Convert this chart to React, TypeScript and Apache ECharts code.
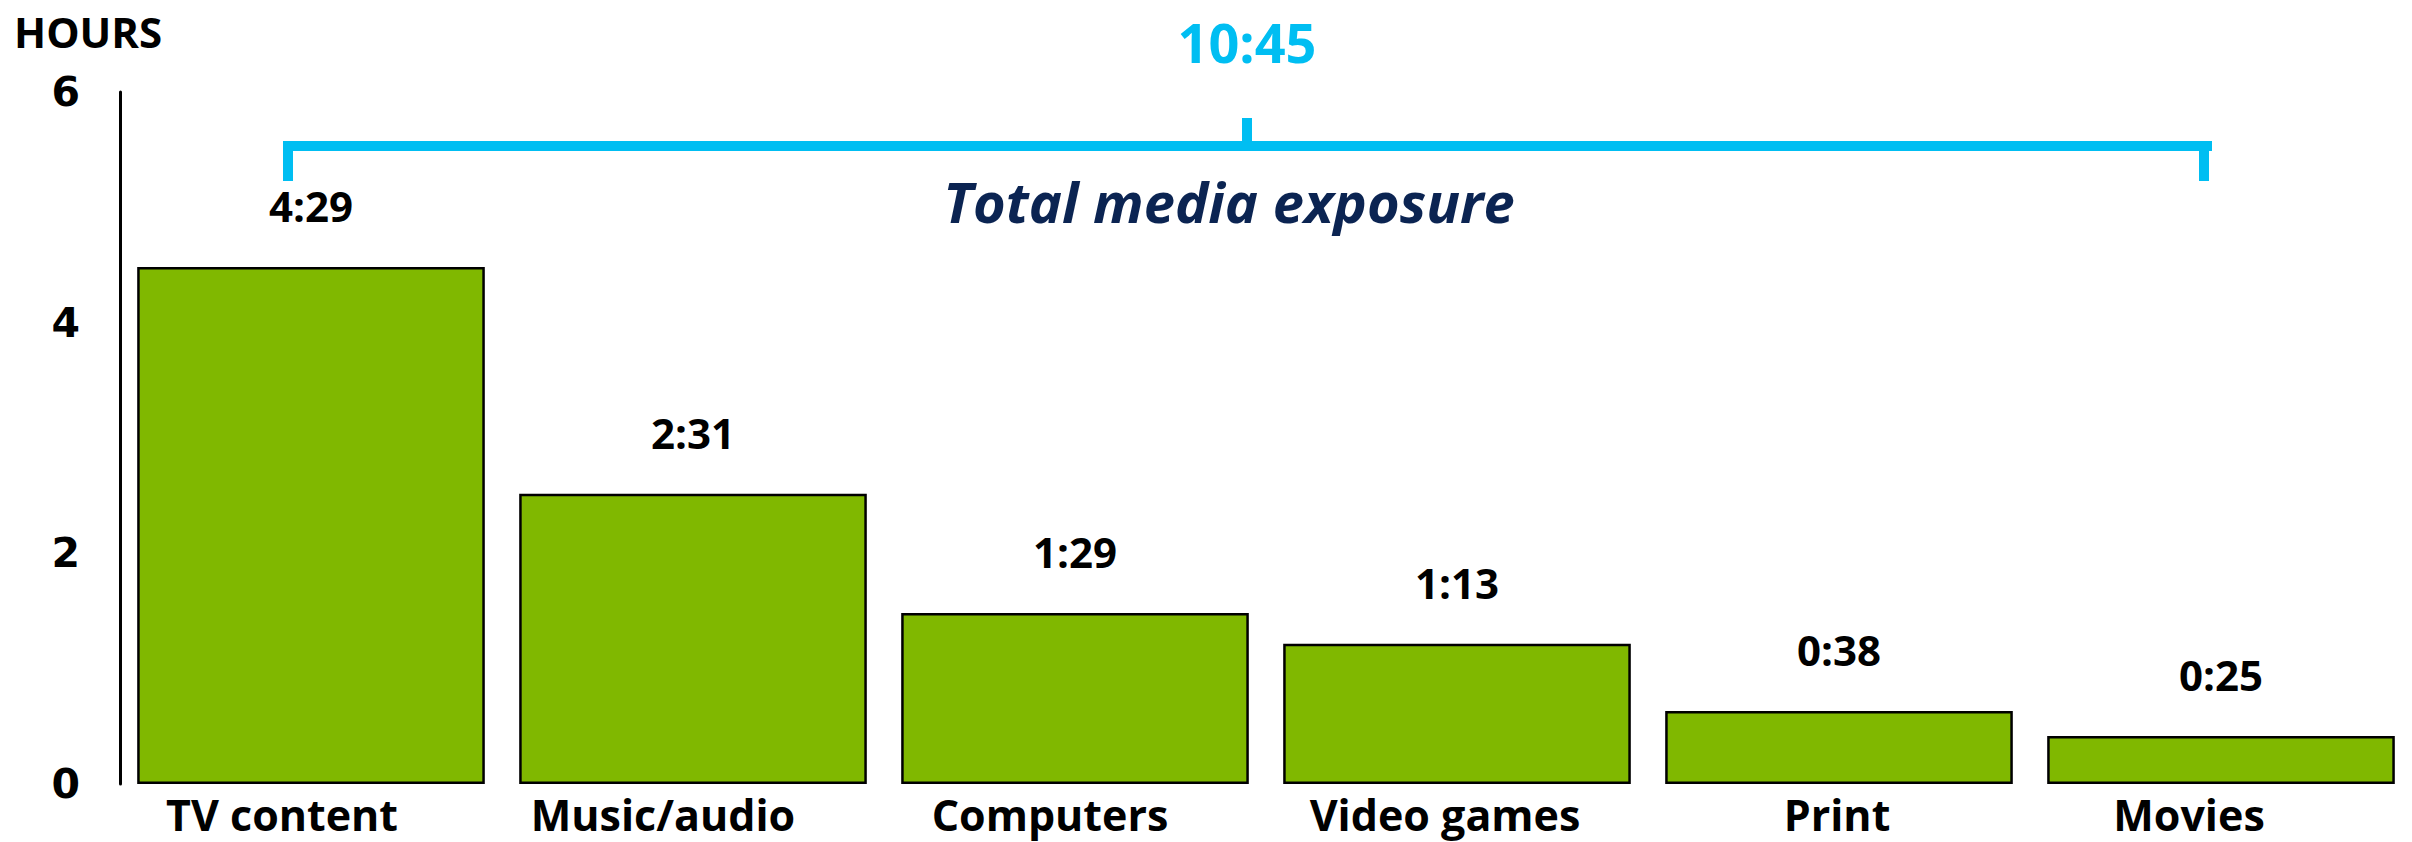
import React, { useEffect, useRef } from "react";
import * as echarts from "echarts";

const categories = ["TV content", "Music/audio", "Computers", "Video games", "Print", "Movies"];
const valueLabels = ["4:29", "2:31", "1:29", "1:13", "0:38", "0:25"];
// hours (h + min/60)
const hours = [4 + 29 / 60, 2 + 31 / 60, 1 + 29 / 60, 1 + 13 / 60, 38 / 60, 25 / 60];
const yTicks = [0, 2, 4, 6];
const totalLabel = "10:45";
const bracketCaption = "Total media exposure";
const yUnit = "HOURS";

// horizontal shift (px, leftwards) of each category label, as in the reference
const labelShift = [29, 30, 25, 12, 2, 32];

const GREEN = "#80B800";
const BLUE = "#00BEF2";
const NAVY = "#0B2452";

export default function App() {
  const ref = useRef<HTMLDivElement>(null);
  useEffect(() => {
    if (!ref.current) return;
    const chart = echarts.init(ref.current, null, { renderer: "svg" });
    const lineStyle = { stroke: BLUE, lineWidth: 10 };
    const labelFont = {
      color: "#000",
      fontFamily: "Open Sans",
      fontWeight: "bold" as const,
      fontSize: 43,
      lineHeight: 36,
    };
    const rich: Record<string, any> = {};
    labelShift.forEach((s, i) => {
      rich["l" + i] = { ...labelFont, padding: [0, 2 * s, 0, 0] };
    });
    chart.setOption({
      animation: false,
      backgroundColor: "#ffffff",
      grid: { left: 120, top: 92, width: 2298, bottom: 58, containLabel: false },
      xAxis: {
        type: "category",
        data: categories,
        axisLine: { show: false },
        axisTick: { show: false },
        axisLabel: {
          interval: 0,
          hideOverlap: false,
          margin: 12,
          ...labelFont,
          rich,
          formatter: (v: string) => `{l${categories.indexOf(v)}|${v}}`,
        },
      },
      yAxis: {
        type: "value",
        min: yTicks[0],
        max: yTicks[yTicks.length - 1],
        interval: 2,
        splitLine: { show: false },
        axisTick: { show: false },
        axisLine: { show: true, lineStyle: { color: "#000", width: 3 } },
        axisLabel: {
          margin: 40,
          color: "#000",
          fontFamily: "DejaVu Sans",
          fontWeight: "bold",
          fontSize: 41,
        },
      },
      series: [
        {
          type: "bar",
          data: hours,
          barCategoryGap: "9%",
          itemStyle: { color: GREEN, borderColor: "#000", borderWidth: 2.5 },
          label: {
            show: true,
            position: "top",
            distance: 40,
            color: "#000",
            fontFamily: "Open Sans",
            fontWeight: "bold",
            fontSize: 42,
            lineHeight: 42,
            formatter: (p: any) => valueLabels[p.dataIndex],
          },
        },
      ],
      graphic: [
        {
          type: "text",
          left: 14,
          top: 10,
          style: { text: yUnit, fill: "#000", font: "bold 42px 'Open Sans'" },
        },
        {
          type: "text",
          x: 1247,
          y: 42,
          style: {
            text: totalLabel,
            fill: BLUE,
            font: "bold 54px 'Open Sans'",
            align: "center",
            verticalAlign: "middle",
          },
        },
        { type: "line", shape: { x1: 283, y1: 146, x2: 2212, y2: 146 }, style: lineStyle },
        { type: "line", shape: { x1: 288, y1: 141, x2: 288, y2: 181 }, style: lineStyle },
        { type: "line", shape: { x1: 2204, y1: 141, x2: 2204, y2: 181 }, style: lineStyle },
        { type: "line", shape: { x1: 1247, y1: 118, x2: 1247, y2: 142 }, style: lineStyle },
        {
          type: "text",
          x: 1229,
          y: 201,
          style: {
            text: bracketCaption,
            fill: NAVY,
            font: "italic bold 56px 'Open Sans'",
            align: "center",
            verticalAlign: "middle",
          },
        },
      ],
    });
    return () => chart.dispose();
  }, []);
  return (
    <div
      ref={ref}
      style={{ position: "fixed", left: 0, top: 0, width: 2412, height: 842, background: "#fff" }}
    />
  );
}
